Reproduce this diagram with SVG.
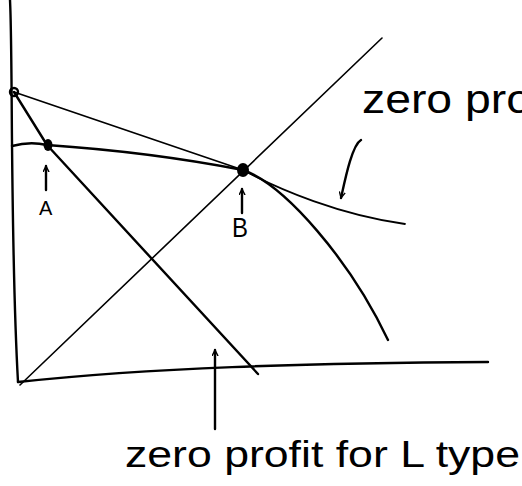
<svg xmlns="http://www.w3.org/2000/svg" width="522" height="486" viewBox="0 0 522 486">
<defs>
<style>
.ln{fill:none;stroke:#000;stroke-width:2.4;stroke-linecap:round;stroke-linejoin:round}
.th{fill:none;stroke:#000;stroke-width:1.6;stroke-linecap:round}
.tx{font-family:"Liberation Sans",Arial,sans-serif;fill:#000}
</style>
<marker id="ah" viewBox="0 0 10 10" refX="9" refY="5" markerWidth="7" markerHeight="7" orient="auto-start-reverse" markerUnits="userSpaceOnUse">
<path d="M1,1 L9,5 L1,9" fill="none" stroke="#000" stroke-width="2" stroke-linecap="round"/>
</marker>
</defs>
<rect width="522" height="486" fill="#fff"/>
<g id="connectors">
<path class="ln" d="M10,0 C13,60 10,240 18,382"/>
<path class="ln" d="M18,382 C150,368 300,363 488,362"/>
<path class="th" d="M20,385 L382,38"/>
<path class="ln" d="M14,92 L243,170 C280,190 340,215 405,224" style="stroke-width:1.8"/>
<path class="ln" d="M14,92 L47,145 L258,374"/>
<path class="ln" d="M12,146 Q30,141 47,145 Q150,152 243,170 C285,185 350,260 388,340"/>
<path class="ln" d="M46,190 L46,166" marker-end="url(#ah)"/>
<path class="ln" d="M242,213 L242,189" marker-end="url(#ah)"/>
<path class="ln" d="M361,140 C352,145 345,180 341,198" marker-end="url(#ah)"/>
<path class="ln" d="M215,429 L215,350" marker-end="url(#ah)"/>
</g>
<g id="origin-point"><circle cx="14" cy="92" r="4" fill="none" stroke="#000" stroke-width="2.4"/></g>
<g id="A"><ellipse cx="48" cy="145" rx="4.5" ry="6" fill="#000"/><text class="tx" x="39" y="215" font-size="20">A</text></g>
<g id="B"><ellipse cx="243" cy="170" rx="6" ry="7" fill="#000"/><text class="tx" x="232" y="237" font-size="28" textLength="16" lengthAdjust="spacingAndGlyphs">B</text></g>
<g id="label-top"><text class="tx" x="362" y="113" font-size="40" textLength="170" lengthAdjust="spacingAndGlyphs">zero pro</text></g>
<g id="label-bottom"><text class="tx" x="125" y="467" font-size="36" textLength="395" lengthAdjust="spacingAndGlyphs">zero profit for L type</text></g>
</svg>
